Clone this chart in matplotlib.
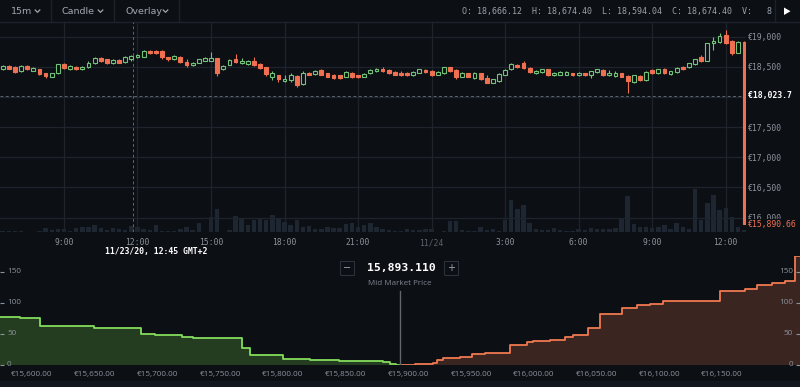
import matplotlib
matplotlib.use('Agg')
import matplotlib.pyplot as plt
from matplotlib.patches import Rectangle, Polygon
from matplotlib.lines import Line2D
from matplotlib.transforms import blended_transform_factory
import numpy as np

W, H = 800, 387
BG = '#0c0f14'
GRID = '#1e242c'
TXT = '#8b939c'
GREEN = '#72c27a'
RED = '#ef7050'
VOL = '#1d2631'
DG_LINE = '#84dc5c'
DG_FILL = '#243d20'
DR_LINE = '#f07a50'
DR_FILL = '#3b2520'
MONO = 'DejaVu Sans Mono'

# ---------------- candle data (15m candles, 11/23 06:30 -> 11/24 12:45) ----------------
opens = [18470,18514,18492,18426,18514,18437,18459,18392,18337,18392,
 18547,18459,18503,18459,18492,18558,18647,18625,18558,18614,
 18580,18636,18658,18669,18768,18768,18768,18658,18625,18669,
 18580,18536,18569,18603,18603,18641,18459,18536,18625,18558,
 18547,18592,18547,18492,18337,18359,18260,18282,18348,18216,
 18404,18381,18448,18392,18370,18359,18337,18404,18359,18337,
 18392,18426,18470,18448,18415,18404,18404,18359,18404,18448,
 18437,18370,18392,18492,18448,18337,18392,18315,18392,18315,
 18238,18260,18370,18459,18536,18558,18481,18392,18415,18459,
 18359,18370,18370,18392,18359,18392,18370,18415,18448,18359,
 18348,18392,18348,18249,18348,18282,18448,18392,18470,18381,
 18415,18503,18492,18547,18658,18603,18890,18912,19023,18934,
 18735,18912]
highs = [18531,18525,18514,18525,18525,18503,18470,18404,18404,18553,
 18558,18525,18514,18514,18603,18658,18669,18636,18625,18625,
 18680,18696,18713,18779,18779,18779,18779,18669,18691,18680,
 18625,18580,18636,18658,18746,18652,18525,18625,18713,18647,
 18614,18658,18558,18503,18437,18370,18359,18392,18359,18426,
 18415,18448,18459,18404,18381,18370,18426,18415,18370,18392,
 18459,18481,18503,18459,18426,18437,18415,18426,18470,18459,
 18448,18426,18503,18503,18459,18415,18404,18415,18404,18359,
 18304,18392,18470,18558,18547,18603,18492,18448,18470,18470,
 18415,18426,18426,18404,18415,18404,18437,18470,18459,18448,
 18437,18404,18359,18370,18359,18426,18459,18470,18481,18437,
 18492,18514,18569,18636,18691,18901,18989,19056,19111,18945,
 18923,18923]
lows = [18453,18459,18404,18415,18453,18426,18370,18321,18326,18381,
 18470,18448,18448,18448,18481,18547,18586,18553,18547,18558,
 18569,18603,18647,18658,18713,18713,18636,18603,18614,18569,
 18503,18514,18558,18592,18592,18348,18448,18525,18569,18547,
 18536,18514,18470,18348,18282,18249,18249,18249,18171,18205,
 18359,18370,18359,18326,18304,18304,18326,18315,18315,18326,
 18381,18415,18415,18381,18359,18348,18348,18348,18392,18404,
 18348,18359,18381,18415,18304,18326,18326,18304,18282,18227,
 18227,18249,18359,18448,18481,18470,18404,18381,18404,18348,
 18348,18359,18359,18348,18348,18348,18315,18404,18348,18348,
 18337,18326,18061,18238,18271,18271,18381,18381,18381,18370,
 18404,18448,18481,18536,18580,18592,18779,18901,18879,18702,
 18724,15890.66]
closes = [18514,18470,18415,18514,18464,18481,18381,18348,18392,18542,
 18481,18514,18459,18503,18569,18641,18597,18569,18614,18569,
 18669,18680,18702,18768,18724,18724,18658,18625,18680,18580,
 18536,18569,18625,18647,18647,18404,18514,18614,18580,18603,
 18603,18525,18481,18381,18404,18293,18304,18359,18194,18404,
 18370,18437,18370,18337,18315,18315,18415,18337,18326,18381,
 18448,18470,18426,18392,18370,18359,18359,18415,18459,18415,
 18359,18415,18492,18426,18337,18404,18337,18404,18293,18238,
 18293,18381,18448,18547,18492,18481,18415,18437,18459,18359,
 18404,18415,18415,18359,18404,18359,18426,18459,18359,18404,
 18392,18337,18260,18359,18282,18415,18392,18459,18392,18426,
 18481,18459,18558,18625,18592,18890,18923,19012,18890,18724,
 18912,15890.66]
volumes = [4,4,4,4,1,1,4,12,6,8, 8,4,12,14,16,20,12,6,12,8,
 6,18,14,10,6,20,4,4,4,8, 16,6,26,1,44,70,1,6,48,42,
 20,36,38,36,50,38,30,22,36,14, 18,8,8,14,12,12,24,26,16,22,
 28,14,10,6,4,
 4,10,6,6,8,8,1,4,32,34, 6,4,4,14,6,8,4,36,96,70,
 82,28,8,6,6,12,6,4,4,8, 6,12,8,10,8,12,40,108,24,14,
 14,12,14,20,8,26,14,10,130,36, 86,112,66,72,44,16, 6]

tick_idx = [11, 23, 35, 47, 59, 71, 83, 95, 107, 119]
tick_labels = ['9:00', '12:00', '15:00', '18:00', '21:00', '11/24', '3:00', '6:00', '9:00', '12:00']
price_ticks = [16000, 16500, 17000, 17500, 18000, 18500, 19000]
price_labels = ['€16,000', '€16,500', '€17,000', '€17,500', '', '€18,500', '€19,000']
cross_price = 18023.7
last_price = 15890.66
cross_idx = 22.27
hover_idx = 26

# ---------------- depth data ----------------
mid_price = 15893.11
bid_x = [15560, 15590.4, 15606.4, 15649.4, 15686.9, 15698.0, 15719.6, 15728.3, 15767.4,
         15773.8, 15800.1, 15821.6, 15845, 15865, 15879.8, 15885.4, 15890, 15893.11]
bid_y = [78, 75, 63, 59, 50, 48, 45, 43, 28, 16, 10, 7.7, 7.0, 6.5, 5, 2, 0.5, 0]
ask_x = [15893.11, 15905, 15915, 15919.7, 15922.8, 15927.6, 15941.2, 15950.7, 15961.1, 15981.0,
         15994.6, 15999.4, 16012.9, 16024.9, 16031.3, 16043.2, 16052.8, 16070.3, 16082.3,
         16092.6, 16103.0, 16148.4, 16168.4, 16177.9, 16189.9, 16200.2, 16208.2, 16230]
ask_y = [0.3, 1, 2, 4, 7.5, 11, 13.4, 17.7, 20, 33, 36.6, 38.7, 41, 44.7, 48, 59, 83, 92.5, 96.8,
         98.4, 103, 119, 122.6, 129, 131.7, 135.5, 175, 175]
depth_ticks = [15600, 15650, 15700, 15750, 15800, 15850, 15900, 15950, 16000, 16050, 16100, 16150]
depth_labels = ['€{:,.2f}'.format(v) for v in depth_ticks]
amount_ticks = [0, 50, 100, 150]

plt.rcParams['font.family'] = ['DejaVu Sans']
fig = plt.figure(figsize=(W / 100, H / 100), dpi=100, facecolor=BG)


def fx(x):
    return x / W


def fy(y):
    return 1 - y / H


# ---------------- toolbar ----------------
fig.add_artist(Line2D([0, 1], [fy(22), fy(22)], color='#1c2229', lw=1))
for sx in [51, 114, 179, 775]:
    fig.add_artist(Line2D([fx(sx), fx(sx)], [fy(0), fy(22)], color='#1c2229', lw=1))
for txt, tx, cx in [('15m', 11, 37.5), ('Candle', 62, 100.5), ('Overlay', 125, 165.5)]:
    fig.text(fx(tx), fy(11.5), txt, color='#a0a8b0', fontsize=6.8, va='center', ha='left')
    fig.add_artist(Line2D([fx(cx - 2.3), fx(cx), fx(cx + 2.3)], [fy(10), fy(12.3), fy(10)],
                          color='#a0a8b0', lw=0.9))
fig.text(fx(462), fy(11.5), 'O: 18,666.12  H: 18,674.40  L: 18,594.04  C: 18,674.40  V:   8',
         family=MONO, fontsize=6.0, color='#9aa2ab', va='center', ha='left')
fig.add_artist(Polygon([[fx(784), fy(7.5)], [fx(784), fy(15)], [fx(790.5), fy(11.25)]],
                       closed=True, facecolor='white', edgecolor='none', transform=fig.transFigure))

# ---------------- candle chart ----------------
pos = [0, fy(232), fx(746), (232 - 22) / H]
axv = fig.add_axes(pos, zorder=1)
axv.set_facecolor(BG)
ax = fig.add_axes(pos, zorder=2)
ax.set_facecolor('none')

idx = np.arange(1, len(opens) + 1)
xlim = (0.56, 122.31)
axv.bar(idx, volumes, width=0.72, color=VOL)
axv.set_xlim(*xlim)
axv.set_ylim(0, 630)
axv.axis('off')

for i, o, h, l, c in zip(idx, opens, highs, lows, closes):
    up = c >= o
    col = GREEN if up else RED
    ax.vlines(i, l, h, color=col, lw=0.8, zorder=3)
    bottom = min(o, c)
    height = max(abs(c - o), 12)
    w = 0.5 if i == len(opens) else 0.62
    ax.add_patch(Rectangle((i - w / 2, bottom), w, height, facecolor=BG if up else col,
                           edgecolor=col, lw=0.8, zorder=4))

ax.set_xlim(*xlim)
ax.set_ylim(15761, 19244)
ax.set_xticks(tick_idx)
ax.set_xticklabels(tick_labels, family=MONO, fontsize=5.8, color=TXT)
for lbl in ax.get_xticklabels():
    if lbl.get_text() == '11/24':
        lbl.set_color('#5b636c')
ax.tick_params(axis='x', length=0, pad=4.5)
ax.yaxis.tick_right()
ax.set_yticks(price_ticks)
ax.set_yticklabels(price_labels, family=MONO, fontsize=5.9, color=TXT)
ax.tick_params(axis='y', length=0, pad=1.5)
ax.grid(True, color=GRID, lw=0.9, zorder=0)
for sp in ax.spines.values():
    sp.set_visible(False)

ax.axhline(cross_price, color='#5d656e', lw=0.7, ls=(0, (3, 2.5)), zorder=2)
ax.axvline(cross_idx, color='#5d656e', lw=0.7, ls=(0, (3, 2.5)), zorder=2)

tr_y = blended_transform_factory(ax.transAxes, ax.transData)
ax.text(1.0 + 1.5 / 746, cross_price, '€{:,.1f}'.format(cross_price), transform=tr_y, ha='left', va='center',
        family=MONO, fontsize=5.9, color='white', fontweight='bold', clip_on=False, zorder=6)
ax.text(1.0 + 1.5 / 746, last_price, '€{:,.2f}'.format(last_price), transform=tr_y, ha='left', va='center',
        family=MONO, fontsize=5.9, color=RED, clip_on=False, zorder=6,
        bbox=dict(facecolor=BG, edgecolor='none', pad=0.6))
tr_x = blended_transform_factory(ax.transData, ax.transAxes)
ax.text(hover_idx, -0.095, '11/23/20, 12:45 GMT+2', transform=tr_x, ha='center', va='center',
        family=MONO, fontsize=5.9, color='white', fontweight='bold', clip_on=False)

# ---------------- depth chart ----------------
fig.patches.append(Rectangle((0, 0), 1, fy(381), transform=fig.transFigure,
                             facecolor='#12171e', edgecolor='none', zorder=0))
axd = fig.add_axes([0, fy(365), 1, 109 / H], zorder=1)
axd.set_facecolor('none')
axd.fill_between(bid_x, bid_y, step='post', color=DG_FILL, lw=0)
axd.step(bid_x, bid_y, where='post', color=DG_LINE, lw=1.3)
axd.fill_between(ask_x, ask_y, step='post', color=DR_FILL, lw=0)
axd.step(ask_x, ask_y, where='post', color=DR_LINE, lw=1.3)
axd.set_xlim(15574.5, 16212.2)
axd.set_ylim(0, 175.8)
axd.axvline(mid_price, ymin=0, ymax=(365 - 291) / 109, color='#5f666e', lw=1.0)
axd.set_xticks(depth_ticks)
axd.set_xticklabels(depth_labels, fontsize=5.9, color=TXT, family='Open Sans')
axd.tick_params(axis='x', length=0, pad=4)
axd.set_yticks(amount_ticks)
axd.tick_params(axis='y', left=True, right=True, labelleft=False, direction='in',
                length=3, width=0.8, color=TXT)
tr_d = blended_transform_factory(axd.transAxes, axd.transData)
for v in amount_ticks:
    axd.text(7 / W, v, str(v), transform=tr_d, ha='left', va='center', fontsize=5.9,
             color=TXT, family='Open Sans')
    axd.text(793 / W, v, str(v), transform=tr_d, ha='right', va='center', fontsize=5.9,
             color=TXT, family='Open Sans')
for sp in axd.spines.values():
    sp.set_visible(False)

# mid-market controls
for bx0, sym in [(340, '−'), (444, '+')]:
    fig.patches.append(Rectangle((fx(bx0), fy(275)), 14 / W, 14 / H, transform=fig.transFigure,
                                 facecolor='none', edgecolor='#2b323b', lw=0.8, zorder=3))
    fig.text(fx(bx0 + 7), fy(268), sym, ha='center', va='center', color='#a0a8b0', fontsize=7)
fig.text(fx(401), fy(268), '{:,.3f}'.format(mid_price), ha='center', va='center', family=MONO,
         fontweight='bold', fontsize=8.2, color='white')
fig.text(fx(400), fy(283.5), 'Mid Market Price', ha='center', va='center', fontsize=5.8,
         color='#7d858e', family='Open Sans')

fig.savefig('out.png', dpi=100, facecolor=BG)
